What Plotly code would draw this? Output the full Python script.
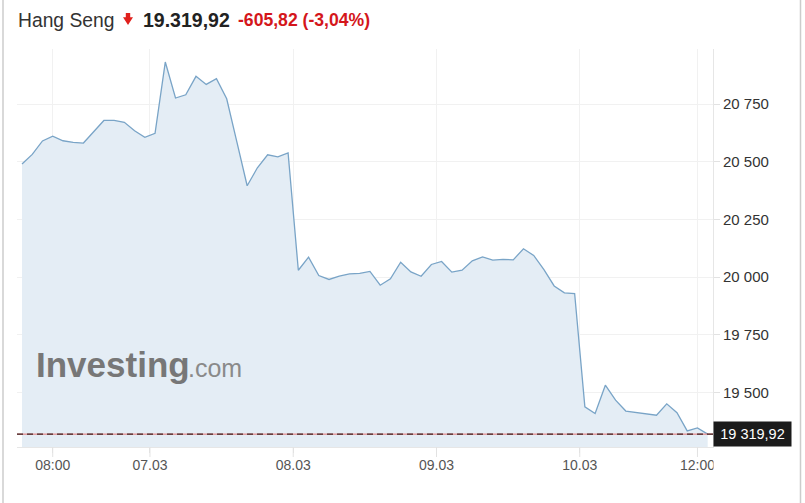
import plotly.graph_objects as go

# ---------------- data ----------------
values = [20490, 20532, 20590, 20611, 20591, 20584, 20581, 20632, 20679, 20679,
          20671, 20634, 20606, 20623, 20932, 20776, 20790, 20870, 20835, 20860,
          20773, 20585, 20396, 20474, 20530, 20521, 20538, 20030, 20087, 20007,
          19990, 20004, 20014, 20016, 20025, 19965, 19993, 20065, 20023, 20004,
          20055, 20068, 20022, 20030, 20071, 20088, 20074, 20077, 20075, 20123,
          20094, 20033, 19962, 19932, 19929, 19438, 19409, 19532, 19467, 19420,
          19415, 19408, 19402, 19451, 19413, 19334, 19347, 19319.92]
x_index = list(range(len(values)))
x_tick_pos = [3, 12.5, 26.5, 40.5, 54.5, 66]
x_tick_labels = ["08:00", "07.03", "08.03", "09.03", "10.03", "12:00"]
y_tick_vals = [19500, 19750, 20000, 20250, 20500, 20750]
y_tick_labels = ["19 500", "19 750", "20 000", "20 250", "20 500", "20 750"]
last_price = 19319.92
last_label = "19 319,92"
title_name = "Hang Seng"
title_price = "19.319,92"
title_change = "-605,82 (-3,04%)"

# ---------------- layout geometry (pixels) ----------------
W, H = 805, 503
L, R, T, B = 17, 713, 49, 446.7
FONT = "Liberation Sans, Arial, sans-serif"


def px(xp):
    return (xp - L) / (R - L)


def py(yp):
    return (B - yp) / (B - T)


fig = go.Figure()
fig.add_trace(go.Scatter(
    x=x_index, y=values, mode="lines",
    line=dict(color="#79a4c7", width=1.3),
    fill="tozeroy", fillcolor="#e4edf5",
    hoverinfo="skip", showlegend=False,
))

shapes = [
    # last price reference lines
    dict(type="line", xref="paper", yref="y", x0=0, x1=1, y0=last_price, y1=last_price,
         line=dict(color="#e07070", width=1), layer="above"),
    dict(type="line", xref="paper", yref="y", x0=0, x1=1, y0=last_price, y1=last_price,
         line=dict(color="#3e2020", width=1.4, dash="6px,4px"), layer="above"),
    # widget borders
    dict(type="line", xref="paper", yref="paper", x0=px(3), x1=px(3), y0=py(0), y1=py(H),
         line=dict(color="#cccccc", width=1.5)),
    dict(type="line", xref="paper", yref="paper", x0=px(800.5), x1=px(800.5), y0=py(0), y1=py(H),
         line=dict(color="#cccccc", width=1.5)),
    # red down arrow
    dict(type="path", xref="paper", yref="paper",
         path=("M {a},{b} L {c},{b} L {c},{d} L {e},{d} L {f},{g} L {h},{d} L {a2},{d} Z").format(
             a=px(125.8), b=py(13), c=px(130.2), d=py(17.3), e=px(133), f=px(128), g=py(25),
             h=px(123), a2=px(125.8)),
         fillcolor="#e0201c", line=dict(width=0)),
    # extend x tick marks to 10px
    *[dict(type="line", xref="x", yref="paper", x0=t, x1=t, y0=0, y1=py(B + 10),
           line=dict(color="#e2e2e2", width=1)) for t in x_tick_pos],
    # clip the rightmost x label
    dict(type="rect", xref="paper", yref="paper", x0=px(713.5), x1=px(721), y0=py(452), y1=py(480),
         fillcolor="white", line=dict(width=0), layer="above"),
]

annotations = [
    dict(text=title_name, xref="paper", yref="paper", x=px(16.5), y=py(20.5),
         xanchor="left", yanchor="middle", showarrow=False, borderpad=0,
         font=dict(family=FONT, size=19.3, color="#333333")),
    dict(text="<b>" + title_price + "</b>", xref="paper", yref="paper", x=px(142), y=py(20.5),
         xanchor="left", yanchor="middle", showarrow=False, borderpad=0,
         font=dict(family=FONT, size=19.5, color="#222222")),
    dict(text="<b>" + title_change + "</b>", xref="paper", yref="paper", x=px(236.8), y=py(20.5),
         xanchor="left", yanchor="middle", showarrow=False, borderpad=0,
         font=dict(family=FONT, size=17.6, color="#d4161b")),
    # watermark
    dict(text="<b>Investing</b>", xref="paper", yref="paper", x=px(35), y=py(364),
         xanchor="left", yanchor="middle", showarrow=False, borderpad=0,
         font=dict(family=FONT, size=35, color="#777777")),
    dict(text=".com", xref="paper", yref="paper", x=px(187), y=py(368),
         xanchor="left", yanchor="middle", showarrow=False, borderpad=0,
         font=dict(family=FONT, size=25, color="#8a8a8a")),
    # last price label
    dict(text=last_label, xref="paper", yref="y", x=1.0, y=last_price,
         xanchor="left", yanchor="middle", showarrow=False,
         bgcolor="#1b1b1b", borderpad=3, width=71, height=18,
         font=dict(family=FONT, size=14.5, color="white")),
]

fig.update_layout(
    width=W, height=H,
    margin=dict(l=L, r=W - R, t=T, b=H - B, pad=0),
    paper_bgcolor="white", plot_bgcolor="white",
    showlegend=False,
    shapes=shapes, annotations=annotations,
    xaxis=dict(
        range=[-0.49, 67.52], tickmode="array", tickvals=x_tick_pos, ticktext=x_tick_labels,
        showgrid=True, gridcolor="#f1f1f1", gridwidth=1,
        showline=True, linecolor="#e6e6e6", linewidth=1,
        ticks="outside", ticklen=5, tickcolor="#e2e2e2", tickwidth=1,
        tickfont=dict(family=FONT, size=14, color="#555555"),
        zeroline=False, fixedrange=True,
    ),
    yaxis=dict(
        side="right", range=[19264.2, 20988.5], tickmode="array",
        tickvals=y_tick_vals, ticktext=y_tick_labels,
        showgrid=True, gridcolor="#f1f1f1", gridwidth=1,
        showline=True, linecolor="#e6e6e6", linewidth=1,
        ticks="outside", ticklen=6, tickcolor="#e2e2e2", tickwidth=1,
        tickfont=dict(family=FONT, size=15, color="#333333"),
        zeroline=False, fixedrange=True,
    ),
)

fig.write_html("out.html", config={"displayModeBar": False},
               post_script="document.body.style.margin='0px';document.body.style.overflow='hidden';")
